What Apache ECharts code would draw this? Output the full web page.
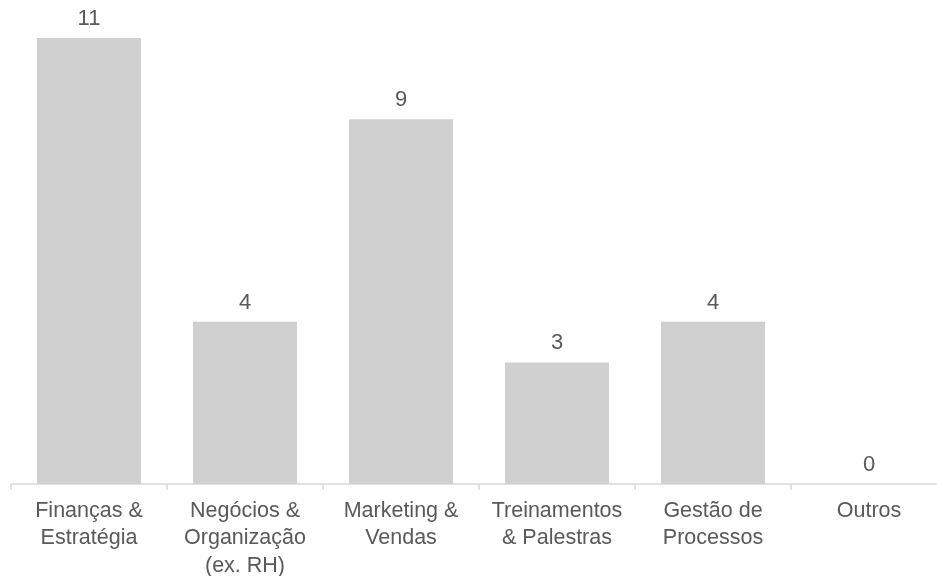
<!DOCTYPE html>
<html>
<head>
<meta charset="utf-8">
<script src="https://cdn.jsdelivr.net/npm/echarts@6/dist/echarts.min.js"></script>
<style>
  html, body { margin: 0; padding: 0; background: #ffffff; }
  #chart { width: 937px; height: 576px; }
</style>
</head>
<body>
<div id="chart"></div>
<script>
// Categories and counts per area
const categories = [
  'Finanças &\nEstratégia',
  'Negócios &\nOrganização\n(ex. RH)',
  'Marketing &\nVendas',
  'Treinamentos\n& Palestras',
  'Gestão de\nProcessos',
  'Outros'
];
const counts = [11, 4, 9, 3, 4, 0];

const textColor = '#595959';
const fontFamily = '"Liberation Sans", Arial, sans-serif';

const chart = echarts.init(document.getElementById('chart'), null, { renderer: 'canvas' });
chart.setOption({
  animation: false,
  backgroundColor: '#ffffff',
  // the plot runs slightly past the right edge, so the grid is not clamped to the canvas
  grid: { left: 11, top: 0, width: 936, height: 484, containLabel: false, outerBoundsMode: 'none' },
  xAxis: {
    type: 'category',
    data: categories,
    boundaryGap: true,
    axisLine: { show: true, lineStyle: { color: '#d9d9d9', width: 1.5 } },
    axisTick: { show: true, alignWithLabel: false, length: 6, lineStyle: { color: '#d9d9d9', width: 1.5 } },
    axisLabel: {
      interval: 0,
      color: textColor,
      fontFamily: fontFamily,
      fontSize: 21.5,
      lineHeight: 27.5,
      margin: 13
    }
  },
  yAxis: {
    type: 'value',
    min: 0,
    max: 11.94,
    show: false,
    splitLine: { show: false }
  },
  series: [{
    type: 'bar',
    data: counts,
    barWidth: 104,
    itemStyle: { color: '#d0d0d0' },
    label: {
      show: true,
      position: 'top',
      distance: 8,
      color: textColor,
      fontFamily: fontFamily,
      fontSize: 22
    }
  }]
});
</script>
</body>
</html>
